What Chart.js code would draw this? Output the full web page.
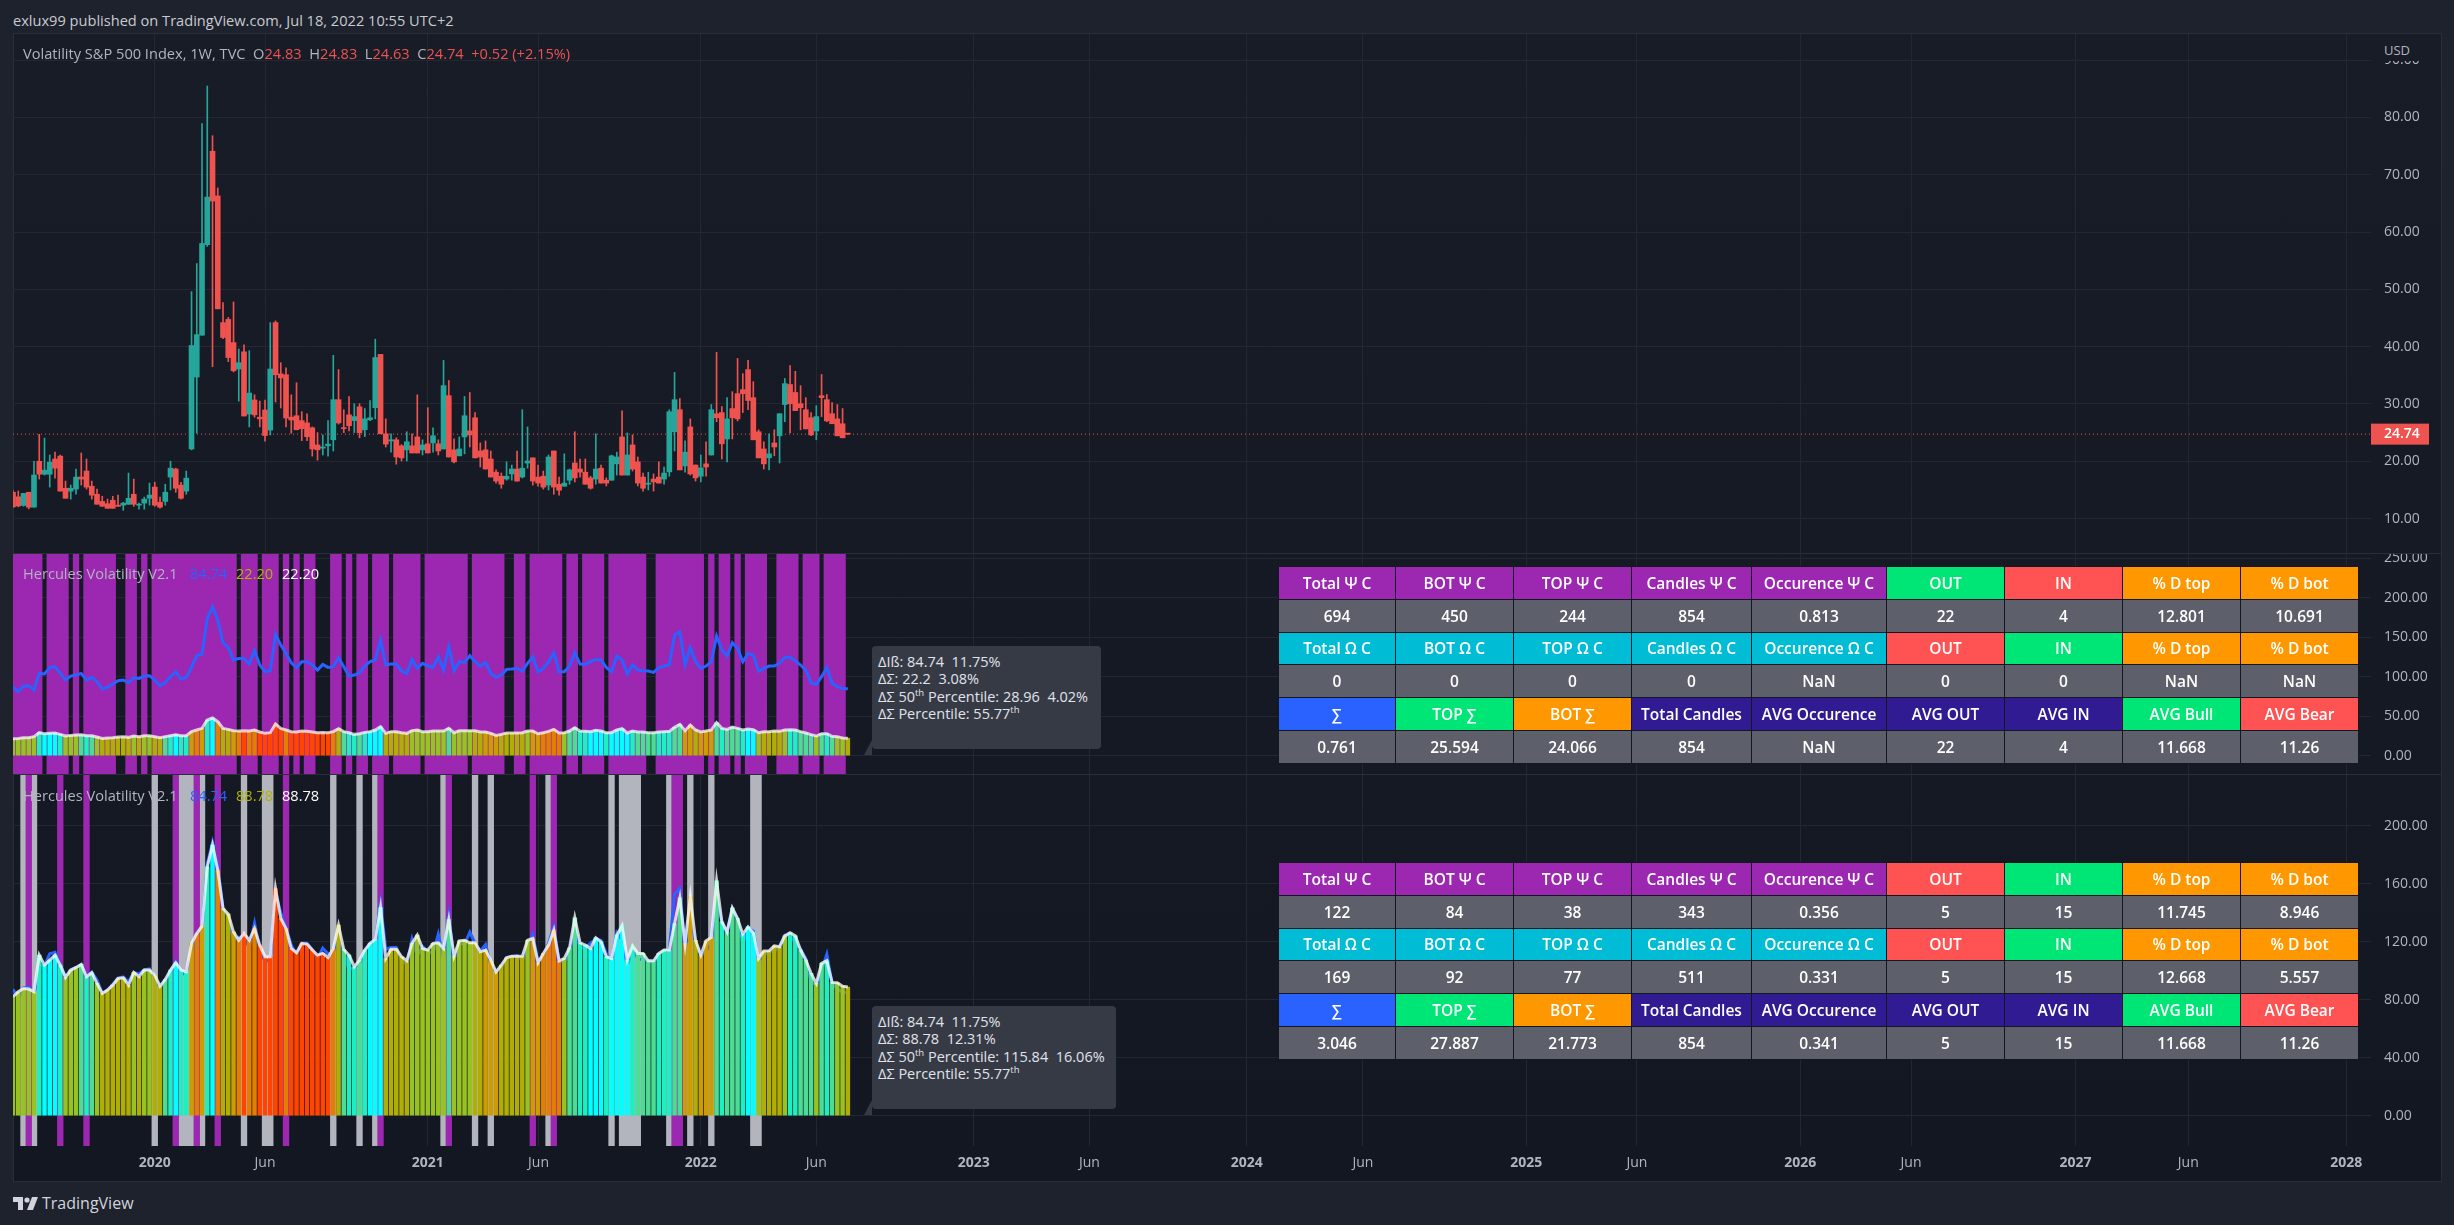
<!DOCTYPE html>
<html>
<head>
<meta charset="utf-8">
<title>VIX Hercules Volatility</title>
<script src="https://cdn.jsdelivr.net/npm/chart.js@4/dist/chart.umd.min.js"></script>
<style>
html, body { margin: 0; padding: 0; width: 2454px; height: 1225px; overflow: hidden; background: #1e222d; font-family: "Open Sans", sans-serif; }
#frame { position: absolute; left: 13px; top: 33px; width: 2427px; height: 1147px; border: 1px solid #2a2e39; background: linear-gradient(#181c27, #131722); }
.pane { position: absolute; left: 13px; }
.sep { position: absolute; left: 13px; width: 2428px; height: 1px; background: #2a2e39; }
.txt { position: absolute; white-space: pre; font-size: 14.6px; color: #b2b5be; line-height: 18px; }
#usd { position: absolute; left: 2372px; top: 35px; width: 67px; height: 26px; background: #181c27; font-size: 13px; color: #b2b5be; line-height: 30px; text-indent: 12px; }
.tip { position: absolute; background: #363a45; border-radius: 4px; color: #e0e3eb; font-size: 14.5px; line-height: 17.4px; white-space: pre; padding: 7px 6px; box-sizing: border-box; }
.tip:after { content: ""; position: absolute; left: -8px; bottom: -6px; border-style: solid; border-width: 0 0 15px 8px; border-color: transparent transparent #363a45 transparent; }
.tip sup { font-size: 9.5px; line-height: 0; }
table.stats { position: absolute; left: 1278px; width: 1080px; table-layout: fixed; border-collapse: collapse; color: #fff; font-size: 15.5px; font-weight: 600; }
table.stats td { text-align: center; padding: 0; height: 31.8px; border: 1px solid #131722; overflow: hidden; white-space: nowrap; }
</style>
</head>
<body>
<div id="frame"></div>
<div class="txt" style="left:13px;top:11px;color:#c8cad0">exlux99 published on TradingView.com, Jul 18, 2022 10:55 UTC+2</div>

<canvas id="pricePane" class="pane" style="top:34px" width="2428" height="519"></canvas>
<canvas id="wholePane" class="pane" style="top:554px" width="2428" height="220"></canvas>
<canvas id="splitPane" class="pane" style="top:775px" width="2428" height="406"></canvas>
<div class="sep" style="top:553px"></div>
<div class="sep" style="top:774px"></div>
<div id="usd">USD</div>

<div class="txt" style="left:23px;top:44px">Volatility S&amp;P 500 Index, 1W, TVC  O<span style="color:#ef5350">24.83</span>  H<span style="color:#ef5350">24.83</span>  L<span style="color:#ef5350">24.63</span>  C<span style="color:#ef5350">24.74</span>  <span style="color:#ef5350">+0.52 (+2.15%)</span></div>
<div class="txt" style="left:23px;top:564px">Hercules Volatility V2.1</div>
<div class="txt" style="left:190px;top:564px;color:#2962ff">84.74</div>
<div class="txt" style="left:236px;top:564px;color:#afb300">22.20</div>
<div class="txt" style="left:282px;top:564px;color:#fff">22.20</div>
<div class="txt" style="left:23px;top:786px">Hercules Volatility V2.1</div>
<div class="txt" style="left:190px;top:786px;color:#2962ff">84.74</div>
<div class="txt" style="left:236px;top:786px;color:#afb300">88.78</div>
<div class="txt" style="left:282px;top:786px;color:#fff">88.78</div>

<div class="tip" style="left:872px;top:646px;width:229px;height:103px">ΔIß: 84.74  11.75%
ΔΣ: 22.2  3.08%
ΔΣ 50<sup>th</sup> Percentile: 28.96  4.02%
ΔΣ Percentile: 55.77<sup>th</sup></div>
<div class="tip" style="left:872px;top:1006px;width:244px;height:103px">ΔIß: 84.74  11.75%
ΔΣ: 88.78  12.31%
ΔΣ 50<sup>th</sup> Percentile: 115.84  16.06%
ΔΣ Percentile: 55.77<sup>th</sup></div>

<table class="stats" id="tableWhole" style="top:566px"></table>
<table class="stats" id="tableSplit" style="top:862px"></table>

<svg style="position:absolute;left:13px;top:1196px" width="26" height="15" viewBox="0 0 26 15"><path fill="#d1d4dc" d="M0 1h10v13H5V6H0z"/><circle cx="14" cy="4" r="2.6" fill="#d1d4dc"/><path fill="#d1d4dc" d="M19 1h6l-5 13h-6z"/></svg>
<div class="txt" style="left:42px;top:1193px;font-size:16px;line-height:20px;color:#d1d4dc">TradingView</div>

<script>
//////////////////////////////// Data ////////////////////////////////

// weekly VIX candles, Jul 2019 to Jul 2022
var candleOpen = [
    14.6,13.8,12.3,14.6,12,20,17.75,17.75,20.4,20.9,
    15.3,14.8,15.15,17.25,18.3,15.65,14.25,13,12.6,13.2,
    12.35,12.35,12.5,14.25,12.35,12.7,13.55,15.5,12.85,13,
    17.25,18.65,15.85,14.8,22.15,34.7,42,57.8,74.1,66.3,
    44.2,44.75,40.7,36.1,39.1,28.25,30.7,27.7,28.95,25.45,
    44.2,35.25,35.1,27.7,27.95,27.1,26.7,25.85,22.85,22.3,
    22.7,23.75,30.75,25.85,28.1,27.1,29.5,25.5,27.25,29.35,
    38.65,24.8,23.55,23.75,22.7,22,22.7,24.25,22,23.05,
    23.2,23.05,22.15,31.45,22,20.95,24.25,25.3,27.6,21.8,
    22,20.4,18.1,17.4,16.9,17.8,18.65,17.25,19.7,20.6,
    17.25,17.4,15.85,21.8,16,15.65,16.7,19.7,18.65,18.1,
    17.1,16.9,18.8,16.7,16.7,19.55,24.25,17.6,22.85,19.9,
    17.25,16,16.9,17.25,16.9,18.15,25.15,29,19.2,26,
    19.35,17.4,19.55,21.1,28.3,28.5,23.9,29.2,31.8,32.5,
    36,31.1,25.15,22.15,20.6,23.2,24.45,29.9,33.4,32,
    30.05,29,27.6,25.3,31.45,30.75,28.3,27.4,26.55,24.83
];
var candleHigh = [
    14.9,14.8,14.4,14.6,20,24.7,24.05,21.1,21.6,21.1,
    16.55,15.85,18.65,21.45,20.4,16.55,15.15,13.9,13.4,13.9,
    14.1,12.85,17.95,16.9,12.7,13.75,16.2,16.35,13.75,16,
    20,18.8,16.35,18.3,49.6,54.5,78.9,85.47,76.8,67.7,
    47.7,45.1,47.8,39.6,40.3,39.3,31.6,30.5,30.7,44.2,
    44.5,37.2,36.3,31.6,33.7,28.65,28.3,26,25,24.6,
    27.1,38.5,36,29,31.3,30.05,30.05,29.2,30.6,41.3,
    38.65,27.4,24.8,24.1,22.9,25.15,24.8,31.6,23.75,29.35,
    25.85,23.75,37.6,34.1,23.9,24.25,31.3,32,28.5,23.2,
    23.55,21.8,18.5,17.95,19.9,19.35,21.8,29,26,20.6,
    19.35,18.3,21.1,21.8,17.25,21.3,18.65,25.15,20.4,20.4,
    17.4,24.8,19.35,17.1,21.1,21.6,28.8,24.95,24.6,20.75,
    17.95,18.1,17.8,19.9,19,29,35.5,30.95,23.55,27.4,
    19.35,21.1,23.4,29.9,39,29.55,31.1,32.15,37.95,35.3,
    37.6,33.9,25.5,23.4,24.8,25.5,28.3,34.45,36.7,35.7,
    33.2,31.1,28.5,29.7,35.15,31.65,30.25,29.9,29.2,24.83
];
var candleLow = [
    11.9,12.05,12.15,11.7,12,16.9,17.6,15.5,17.05,14.8,
    13.55,13.4,14.25,15.85,15.15,13.4,12.5,12.15,11.8,11.8,
    12.15,11.45,12.5,12.15,11.65,11.65,12.35,12.15,11.8,12.35,
    15,14.6,13.4,14.25,22,24.9,42,57.5,36.5,46.6,
    41.4,37.4,35.6,30.5,27.9,26,27.7,26,23.5,24.6,
    30.35,29.3,26,24.9,25.5,23.6,23.6,20.9,20.2,21.1,
    20.9,21.8,26.5,25,25.3,25,24.1,24.3,27.1,27.4,
    24.8,22.5,21.6,19.5,20.05,20.05,21.45,21.45,21.1,21.45,
    21.6,21.1,22.15,20.75,19.7,20.95,21.3,22.5,20.6,19,
    18.65,17.25,16.2,15.3,16.7,16.7,16.55,17.1,18.8,15.85,
    15.65,15.15,15,14.25,14.1,15.65,16,16.4,17.25,16,
    15.15,16,16.2,15.7,16.7,17.6,17.6,17.6,18.3,15.7,
    14.8,15,14.8,16.2,16,17.4,21.8,18.5,18.1,17.6,
    16.55,16.4,17.4,21.1,26.9,20.4,19.9,23.9,27.05,28.5,
    29,23.75,20.6,18.65,18.5,20.95,19.7,26.9,24.95,28.85,
    25.5,25.65,24.45,23.75,27.8,26.9,26.55,24.45,24.1,24.63
];
var candleClose = [
    12.05,12.2,14.4,12,17.6,17.75,18.45,19.85,18.8,14.8,
    13.55,15.3,17.25,16.9,15.5,14.1,12.5,12.15,11.8,11.8,
    12.15,12.7,13.55,12.5,12.5,13.4,14.1,12.35,12,14.6,
    18.8,15.3,13.55,17.05,40.2,42.1,58,66.1,65.4,46.6,
    41.6,38.1,35.8,37.2,27.9,31.9,28.1,27.4,24.5,36.1,
    35.1,34.55,27.55,27.2,25.5,25.7,24.3,22.15,22,22.5,
    23,30.75,26.7,25.7,26.2,27.8,25,27.4,27.6,38.1,
    24.8,23,23.75,20.75,20.6,23.4,21.45,21.45,22.85,21.45,
    24.45,21.8,33.2,20.75,19.9,22.15,27.95,24.6,20.6,20.75,
    18.65,17.25,16.55,16,17.4,18.65,16.55,18.8,20.05,16.55,
    16.2,15.5,20.75,15.5,14.95,16.2,18.5,17.1,18.1,16,
    15.3,18.65,16.2,16.2,20.95,20.75,17.6,21.1,18.65,16.2,
    15.3,16.2,16.4,16.2,17.95,28.65,30.75,18.5,21.6,17.8,
    17.1,18.85,19,29,27.6,23.05,27.4,27.6,27.4,31.8,
    30.6,23.75,20.6,19.55,21.3,22.5,28.3,33.55,30.05,28.85,
    29.35,25.65,24.6,27.8,31.1,27.05,26.55,24.45,24.1,24.74
];

// blue line, the same in both indicator panes
var deltaIb = [
    87.3,81,88.2,88.6,83.1,104.2,103.4,111.8,112.7,104.2,
    95.8,100.8,102.1,104.2,95.8,99.2,93.7,84.4,86.5,90.7,
    94.9,95.8,92.4,98.7,97.9,100.8,101.3,95.8,88.6,92.8,
    100,106.3,97,99.2,112,126.6,128.7,173.8,188.6,171.7,
    143,137.1,121.1,123.2,123.2,116,132.9,114.8,106.3,107.6,
    153.6,140.1,129.5,117.7,111.4,119,119,114.8,108.4,115.6,
    111.8,112.7,124,112.7,100.8,102.1,105.1,113.5,119,121.1,
    146.4,114.8,116,116,107.2,104.2,121.9,110.5,116.9,113.5,
    111.8,125.3,108.4,138,107.6,119,118.1,126.6,119,113.5,
    118.1,104.2,99.2,102.1,109.3,109.7,110.5,107.2,116.9,125.3,
    106.3,110.5,119,130.4,106.3,106.3,113.5,130.4,116,115.6,
    119,121.9,121.1,111.8,106.3,126.2,121.1,103.4,114.8,108.4,
    107.6,107.2,105.5,111.4,113.5,114.8,152.7,157,114.8,137.1,
    119,110.5,113.5,119,151.5,133.8,126.2,143,135.9,119,
    129.5,127.4,107.2,110.5,113.5,113.5,116.9,124.5,124.5,119.8,
    114.8,108.4,92.4,90.3,100,111.4,91.6,87.3,85.2,84.74
];

// columns and white line of the upper indicator pane
var sigmaWhole = [
    21.5,21.9,22.8,22.8,24.1,29.1,27.8,28.3,28.7,27,
    24.9,25.7,26.2,26.6,25.3,25.3,23.6,21.9,22.4,22.8,
    23.6,24.1,23.2,24.9,24.1,25.3,25.3,24.1,22.8,24.1,
    25.3,26.6,25.3,25.3,30.4,32.5,34.6,45.1,47.7,43,
    34.6,33.3,31.6,31.2,31.6,31.2,32.5,30,28.3,29.1,
    40.1,34.6,32.5,30.4,30,31.2,30.8,30,29.1,29.5,
    29.1,30.4,34.2,30.4,29.1,27,27.8,29.5,30.4,32.5,
    36.7,28.3,30.4,30.4,29.1,28.3,31.6,32.5,30.4,30.4,
    31.2,31.2,31.2,34.6,29.1,31.6,31.6,31.6,31.6,30,
    30,28.3,25.7,27,28.7,28.7,28.7,29.1,31.2,31.2,
    27.8,29.1,30.8,33.3,28.7,29.1,31.2,35.4,31.2,30.8,
    30.4,32.1,31.2,29.1,29.1,32.5,34.2,28.7,31.2,30,
    30,29.1,29.1,30,30.4,30.8,35.9,39.7,31.6,38.8,
    32.5,30,31.2,32.5,41.8,34.6,33.3,36.3,34.6,32.5,
    33.8,32.9,29.1,30.4,30.4,31.2,30.8,32.5,32.9,32.5,
    30.4,28.7,26.6,24.9,27.8,27.8,24.5,24.1,22.4,22.2
];

// columns and white line of the lower indicator pane
var sigmaSplit = [
    82.1,85.5,87.8,87.4,85.5,110.8,103.9,107.4,110.8,103.9,
    95.4,100.5,102.3,104.4,95.9,98.6,91.3,84.4,86.7,90.1,
    94.7,95.2,90.1,98.9,95.9,100.5,100.5,97,89.4,94,
    100.5,105.5,100.5,99.3,118.9,125.7,130.8,171.7,186.7,169.4,
    143,139.1,126.9,121.1,125.7,121.1,129.2,117.7,109.7,109.7,
    156.8,136.1,129.2,115.4,112.4,118.9,118.4,114.3,110.8,112,
    109.2,115.4,131.5,114.7,110.8,102.8,107.4,114.3,118.9,121.6,
    143.7,108.5,114.9,114.9,109.7,106.9,118.9,124.6,115.4,114.3,
    118.9,119.3,115.4,135.4,110.3,120.7,121.1,119.3,119.3,113.1,
    114.3,107.4,99.3,103.9,109,110.1,110.1,110.1,121.1,122.3,
    105.5,112,117.7,128,106.9,108.5,115.9,136.6,119.3,117.7,
    115.4,122.8,120,109.7,108.5,124.6,131,107.4,117.2,112,
    112,106.9,106.9,112,114.3,114.3,132.6,150.3,118.9,151,
    121.1,110.8,120.7,123,162.1,133.8,126.9,143.4,136.1,125.3,
    130.3,126.2,108.5,113.6,113.8,117.2,116.6,124.1,126.2,124.1,
    114.3,107.4,98.2,91.3,105.1,106.9,92,91.7,89.4,88.78
];

// column colour class per week
var sigmaClass = [
    1,1,1,1,1,3,4,4,4,3,
    1,1,1,2,3,2,1,0,0,0,
    0,0,0,1,0,1,1,0,0,2,
    3,4,3,3,5,6,5,3,4,6,
    0,0,5,6,7,6,6,7,7,7,
    7,7,6,7,7,7,7,7,7,7,
    7,6,0,2,3,3,2,3,4,4,
    4,0,0,0,0,0,1,1,1,1,
    1,1,1,2,1,1,1,1,0,0,
    5,5,5,0,0,0,0,0,1,5,
    5,6,6,6,6,1,2,2,3,3,
    4,4,4,3,4,4,4,4,3,2,
    2,2,2,3,3,3,2,2,5,5,
    0,5,5,5,2,3,2,2,2,3,
    4,4,1,0,0,0,0,1,3,3,
    2,2,2,1,2,3,2,1,1,0
];

// highlighted weeks as [from, to]
var wholePurpleWeeks = [[0,5],[7,10],[12,12],[14,19],[22,23],[25,25],[27,42],[44,46],[48,50],[52,52],[54,54],[56,57],[61,62],[64,64],[66,67],[69,71],[73,77],[79,86],[88,93],[96,97],[99,104],[106,107],[109,112],[114,120],[123,131],[133,133],[135,136],[138,138],[140,143],[146,149],[151,153],[155,158]];
var splitPurpleWeeks = [[3,3],[9,9],[14,14],[31,31],[35,35],[39,39],[52,52],[70,70],[83,83],[99,99],[103,103],[126,127]];
var splitGrayWeeks = [[2,2],[4,4],[27,27],[32,34],[36,36],[44,44],[48,49],[61,61],[66,66],[69,69],[82,82],[88,88],[91,91],[102,102],[114,114],[116,119],[125,125],[129,129],[133,133],[141,142]];

var timeWeeks = [27,48,79,100.1,131,153,183,205,235,257.1,288.2,309.3,340.4,361.5,392.8,414.3,444.4];
var timeLabels = ["2020","Jun","2021","Jun","2022","Jun","2023","Jun","2024","Jun","2025","Jun","2026","Jun","2027","Jun","2028"];

var priceTicks = [10,20,30,40,50,60,70,80,90];
var wholeTicks = [0,50,100,150,200,250];
var splitTicks = [0,40,80,120,160,200];

var statsWhole = [
    ["Total Ψ C","BOT Ψ C","TOP Ψ C","Candles Ψ C","Occurence Ψ C","OUT","IN","% D top","% D bot"],
    ["694","450","244","854","0.813","22","4","12.801","10.691"],
    ["Total Ω C","BOT Ω C","TOP Ω C","Candles Ω C","Occurence Ω C","OUT","IN","% D top","% D bot"],
    ["0","0","0","0","NaN","0","0","NaN","NaN"],
    ["∑","TOP ∑","BOT ∑","Total Candles","AVG Occurence","AVG OUT","AVG IN","AVG Bull","AVG Bear"],
    ["0.761","25.594","24.066","854","NaN","22","4","11.668","11.26"]
];
var statsSplit = [
    statsWhole[0],
    ["122","84","38","343","0.356","5","15","11.745","8.946"],
    statsWhole[2],
    ["169","92","77","511","0.331","5","15","12.668","5.557"],
    statsWhole[4],
    ["3.046","27.887","21.773","854","0.341","5","15","11.668","11.26"]
];

//////////////////////////////// Styles ////////////////////////////////

var classColors = ["#b0ad05","#97c221","#4cdc93","#1cefc0","#00ffff","#cc9c00","#e37f00","#ff4500"];
var UP = "#26a69a", DOWN = "#ef5350", PURPLE = "#9c27b0", GRAY = "#b2b5be", GRID = "#232732", LABEL = "#b2b5be";
var GREEN = "#00e676", RED = "#ff5252", ORANGE = "#ff9800", CYAN = "#00bcd4", BLUE = "#2962ff", INDIGO = "#311b92", CELL = "#5d606b";
var columnWidths = [117,118,118,120,135,118,118,118,118];
var headerWhole = [
    [PURPLE,PURPLE,PURPLE,PURPLE,PURPLE,GREEN,RED,ORANGE,ORANGE],
    [CYAN,CYAN,CYAN,CYAN,CYAN,RED,GREEN,ORANGE,ORANGE],
    [BLUE,GREEN,ORANGE,INDIGO,INDIGO,INDIGO,INDIGO,GREEN,RED]
];
var headerSplit = [
    [PURPLE,PURPLE,PURPLE,PURPLE,PURPLE,RED,GREEN,ORANGE,ORANGE],
    headerWhole[1],
    headerWhole[2]
];

var WEEK_MAX = 449.1;   // right end of the time scale

//////////////////////////////// Functions ////////////////////////////////

function floating(lows, highs) {
    return lows.map(function(v, i) { return { x: i, y: [v, highs[i]] }; });
}

function points(values) {
    return values.map(function(v, i) { return { x: i, y: v }; });
}

// turns [from, to] week ranges into full height bars
function bandDataset(ranges, color, yMin, yMax, order) {
    var data = [];
    ranges.forEach(function(r) {
        for (var w = r[0]; w <= r[1]; w++) data.push({ x: w, y: [yMin, yMax] });
    });
    return { type: "bar", data: data, backgroundColor: color, barThickness: 5.7, grouped: false, order: order };
}

function lineDataset(values, color, width, order) {
    return { type: "line", data: points(values), borderColor: color, borderWidth: width, pointRadius: 0, tension: 0, order: order };
}

function columnDataset(values, order) {
    return {
        type: "bar", data: points(values), grouped: false, barThickness: 3.9, order: order,
        backgroundColor: sigmaClass.map(function(c) { return classColors[c]; })
    };
}

function paneOptions(yMin, yMax, yTicks, showTime) {
    return {
        responsive: false,
        animation: false,
        layout: { padding: 0 },
        plugins: { legend: { display: false }, tooltip: { enabled: false } },
        scales: {
            x: {
                type: "linear", min: 0, max: WEEK_MAX, offset: false,
                grid: { color: GRID, drawTicks: false, offset: false },
                border: { display: false },
                afterBuildTicks: function(s) { s.ticks = timeWeeks.map(function(w) { return { value: w }; }); },
                afterFit: function(s) {
                    s.height = showTime ? 35 : 0;
                    s.paddingLeft = 0;
                    s.paddingRight = 0;
                },
                ticks: {
                    display: showTime, autoSkip: false, maxRotation: 0, padding: 9, color: LABEL,
                    font: function(ctx) { return { family: "Open Sans", size: 14, weight: timeLabels[ctx.index] === "Jun" ? "normal" : "bold" }; },
                    callback: function(value) { return timeLabels[timeWeeks.indexOf(value)]; }
                }
            },
            y: {
                position: "right", min: yMin, max: yMax,
                grid: { color: GRID, drawTicks: false },
                border: { display: false },
                afterBuildTicks: function(s) { s.ticks = yTicks.map(function(v) { return { value: v }; }); },
                afterFit: function(s) {
                    // the plot has to fill the pane, labels may be cut at its edge
                    s.width = 70;
                    s.paddingTop = 0;
                    s.paddingBottom = 0;
                },
                ticks: {
                    padding: 13, color: LABEL, font: { family: "Open Sans", size: 14 },
                    callback: function(value) { return value.toFixed(2); }
                }
            }
        }
    };
}

// red box with the last close on the price scale
var lastPriceTag = {
    id: "lastPriceTag",
    afterDraw: function(chart) {
        var y = chart.scales.y.getPixelForValue(candleClose[candleClose.length - 1]);
        var ctx = chart.ctx, left = chart.chartArea.right;
        ctx.save();
        ctx.fillStyle = DOWN;
        ctx.fillRect(left, y - 10.5, 58, 21);
        ctx.fillStyle = "#ffffff";
        ctx.font = "600 14px 'Open Sans'";
        ctx.textBaseline = "middle";
        ctx.fillText(candleClose[candleClose.length - 1].toFixed(2), left + 13, y);
        ctx.restore();
    }
};

function buildTable(id, rows, headers) {
    var html = "<colgroup>";
    columnWidths.forEach(function(w) { html += '<col style="width:' + w + 'px">'; });
    html += "</colgroup>";
    rows.forEach(function(row, r) {
        html += "<tr>";
        row.forEach(function(text, c) {
            var color = r % 2 === 0 ? headers[r / 2][c] : CELL;
            html += '<td style="background:' + color + '">' + text + "</td>";
        });
        html += "</tr>";
    });
    document.getElementById(id).innerHTML = html;
}

window.onload = function() {
    var bodies = floating(candleOpen, candleClose);
    var candleColors = candleOpen.map(function(o, i) { return candleClose[i] >= o ? UP : DOWN; });

    new Chart(document.getElementById("pricePane"), {
        type: "bar",
        data: {
            datasets: [
                { type: "line", data: [{ x: 0, y: candleClose[159] }, { x: WEEK_MAX, y: candleClose[159] }], borderColor: DOWN, borderWidth: 1, borderDash: [1, 3], pointRadius: 0, order: 3 },
                { type: "bar", data: bodies, backgroundColor: candleColors, barThickness: 5, minBarLength: 1, grouped: false, order: 1 },
                { type: "bar", data: floating(candleLow, candleHigh), backgroundColor: candleColors, barThickness: 1, grouped: false, order: 2 }
            ]
        },
        options: paneOptions(4, 94.55, priceTicks, false),
        plugins: [lastPriceTag]
    });

    new Chart(document.getElementById("wholePane"), {
        type: "bar",
        data: {
            datasets: [
                lineDataset(sigmaWhole, "rgba(255,255,255,0.72)", 3, 1),
                lineDataset(deltaIb, BLUE, 3, 2),
                columnDataset(sigmaWhole, 3),
                bandDataset(wholePurpleWeeks, PURPLE, -23.5, 256.5, 4)
            ]
        },
        options: paneOptions(-23.2, 255.4, wholeTicks, false)
    });

    // here the blue line stays behind the columns and only shows at its peaks
    new Chart(document.getElementById("splitPane"), {
        type: "bar",
        data: {
            datasets: [
                lineDataset(sigmaSplit, "rgba(255,255,255,0.78)", 3, 1),
                columnDataset(sigmaSplit, 2),
                lineDataset(deltaIb, BLUE, 3, 3),
                bandDataset(splitPurpleWeeks, PURPLE, -21, 236, 4),
                bandDataset(splitGrayWeeks, GRAY, -21, 236, 5)
            ]
        },
        options: paneOptions(-20.9, 235.1, splitTicks, true)
    });

    buildTable("tableWhole", statsWhole, headerWhole);
    buildTable("tableSplit", statsSplit, headerSplit);
};
</script>
</body>
</html>
